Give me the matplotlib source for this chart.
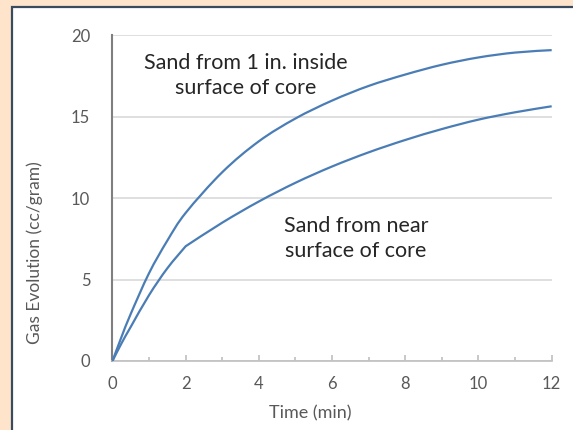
import matplotlib
matplotlib.use("Agg")
import matplotlib.pyplot as plt
from matplotlib.patches import Rectangle, PathPatch
from matplotlib.path import Path
from matplotlib.ticker import MultipleLocator

# Gas evolution readings, two sand samples
time_min = [0, 0.25, 0.5, 1, 1.5, 2, 3, 4, 5, 6, 7, 8, 9, 10, 11, 12]
gas_inside = [0, 1.5, 2.9, 5.4, 7.4, 9.1, 11.6, 13.5, 14.9, 16.0, 16.9, 17.6, 18.2, 18.65, 18.95, 19.1]
gas_surface = [0, 1.1, 2.1, 4.05, 5.7, 7.05, 8.5, 9.8, 10.95, 11.95, 12.82, 13.58, 14.25, 14.83, 15.28, 15.65]

x_ticks = [0, 2, 4, 6, 8, 10, 12]
y_ticks = [0, 5, 10, 15, 20]


def smooth_path(xs, ys, breaks=()):
    # cubic bezier through the points (catmull-rom style), restarting at break indices
    pts = list(zip(xs, ys))
    cuts = [0] + list(breaks) + [len(pts) - 1]
    verts = [pts[0]]
    codes = [Path.MOVETO]
    for a, b in zip(cuts[:-1], cuts[1:]):
        seg = pts[a:b + 1]
        for i in range(len(seg) - 1):
            p0 = seg[i - 1] if i > 0 else seg[i]
            p1 = seg[i]
            p2 = seg[i + 1]
            p3 = seg[i + 2] if i + 2 < len(seg) else seg[i + 1]
            c1 = (p1[0] + (p2[0] - p0[0]) / 6, p1[1] + (p2[1] - p0[1]) / 6)
            c2 = (p2[0] - (p3[0] - p1[0]) / 6, p2[1] - (p3[1] - p1[1]) / 6)
            verts += [c1, c2, p2]
            codes += [Path.CURVE4] * 3
    return Path(verts, codes)


plt.rcParams['font.family'] = ['Lato', 'DejaVu Sans']

fig = plt.figure(figsize=(5.73, 4.30), dpi=100)
fig.patch.set_facecolor('#fde4cb')

# white panel with dark frame, kept behind the axes
panel = Rectangle((12 / 573, -0.05), 1.0, 1 - 7 / 430 + 0.05, transform=fig.transFigure,
                  facecolor='white', edgecolor='#3b4b5e', linewidth=1.6, zorder=-1)
fig.patches.append(panel)

ax = fig.add_axes([0.1963, 0.1605, 0.7665, 0.757])
ax.set_facecolor('none')
ax.set_zorder(2)

line_color = '#4a7db5'
ax.add_patch(PathPatch(smooth_path(time_min, gas_inside), fill=False,
                       edgecolor=line_color, linewidth=1.6, zorder=3))
ax.add_patch(PathPatch(smooth_path(time_min, gas_surface, breaks=[time_min.index(2)]),
                       fill=False, edgecolor=line_color, linewidth=1.6, zorder=3))

ax.set_xlim(0, 12)
ax.set_ylim(0, 20)
ax.set_xticks(x_ticks)
ax.set_yticks(y_ticks)
ax.xaxis.set_minor_locator(MultipleLocator(1))

ax.grid(axis='y', color='#d9d9d9', linewidth=1.2)
ax.set_axisbelow(True)

for side in ['top', 'right']:
    ax.spines[side].set_visible(False)
ax.spines['left'].set_color('#7f7f7f')
ax.spines['left'].set_linewidth(1.5)
ax.spines['bottom'].set_color('#bfbfbf')
ax.spines['bottom'].set_linewidth(1.2)

ax.tick_params(axis='y', length=0, pad=16, labelsize=12, labelcolor='#595959')
ax.tick_params(axis='x', which='major', direction='in', length=4, width=1.2,
               color='#bfbfbf', pad=11, labelsize=12, labelcolor='#595959')
ax.tick_params(axis='x', which='minor', direction='in', length=3, width=1.2, color='#bfbfbf')

fig.text(310 / 573, 1 - 413 / 430, 'Time (min)', ha='center', va='center',
         fontsize=13, color='#595959')
fig.text(35 / 573, 1 - 253 / 430, 'Gas Evolution (cc/gram)', ha='center', va='center',
         rotation=90, fontsize=12.5, color='#595959')

ax.text(3.65, 17.55, 'Sand from 1 in. inside\nsurface of core', ha='center', va='center',
        fontsize=15.5, color='#262626', linespacing=1.3)
ax.text(6.65, 7.55, 'Sand from near\nsurface of core', ha='center', va='center',
        fontsize=15.5, color='#262626', linespacing=1.3)

fig.savefig('out.png', dpi=100, facecolor=fig.get_facecolor())
